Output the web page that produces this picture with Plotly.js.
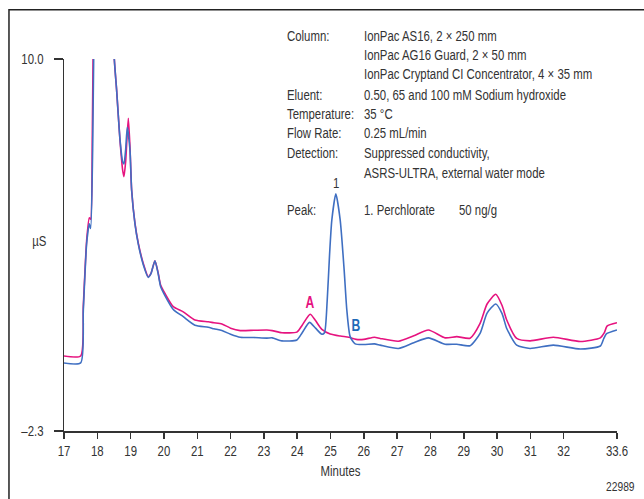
<!DOCTYPE html>
<html>
<head>
<meta charset="utf-8">
<script src="https://cdn.plot.ly/plotly-3.0.1.min.js"></script>
<style>html,body{margin:0;padding:0;background:#fff;}#chart{width:644px;height:499px;}</style>
</head>
<body>
<div id="chart"></div>
<script>
// Trace A (pink)
const timeA = [17.00,17.50,17.58,17.68,17.76,17.80,17.85,17.90,18.10,18.35,18.50,18.58,18.68,18.76,18.80,18.85,18.93,18.98,19.03,19.13,19.23,19.38,19.53,19.61,19.73,19.83,19.90,20.03,20.28,20.58,20.93,21.33,21.50,21.74,22.00,22.29,22.70,23.09,23.25,23.54,23.99,24.15,24.39,24.55,24.74,24.99,25.30,25.55,25.77,26.00,26.32,26.49,27.04,27.50,27.94,28.44,28.79,29.19,29.49,29.70,29.96,30.15,30.29,30.59,30.99,31.69,32.50,33.10,33.22,33.30,33.60];
const signalA = [0.18,0.18,1.85,4.00,4.75,4.70,7.5,13,25,22,10.2,8.97,7.32,6.33,6.11,6.6,8.04,7.10,5.67,4.57,3.91,3.24,2.80,2.91,3.33,2.91,2.53,2.25,1.81,1.64,1.37,1.31,1.28,1.24,1.10,1.02,1.03,1.04,1.02,0.95,0.97,1.20,1.56,1.35,1.06,0.91,0.84,0.80,0.73,0.73,0.80,0.76,0.67,0.85,1.04,0.78,0.82,0.77,1.26,1.90,2.22,1.85,1.37,0.76,0.68,0.80,0.66,0.78,0.95,1.17,1.28];
// Trace B (blue)
const timeB = [17.00,17.50,17.58,17.68,17.76,17.80,17.86,17.92,18.10,18.35,18.50,18.58,18.68,18.76,18.80,18.85,18.90,18.98,19.03,19.13,19.23,19.38,19.53,19.61,19.73,19.83,19.90,20.03,20.28,20.58,20.93,21.33,21.50,21.74,22.00,22.29,22.70,23.09,23.25,23.54,23.99,24.15,24.37,24.55,24.74,24.82,24.90,24.97,25.04,25.16,25.29,25.41,25.49,25.59,25.74,26.00,26.32,26.49,27.04,27.50,27.94,28.44,28.79,29.19,29.49,29.70,29.96,30.15,30.29,30.59,30.99,31.69,32.50,33.10,33.20,33.28,33.60];
const signalB = [-0.05,-0.05,1.70,3.90,4.55,4.40,7.0,13,25,22,10.2,8.97,7.35,6.6,6.53,7.0,7.74,7.0,5.67,4.55,3.88,3.20,2.78,2.90,3.33,2.88,2.48,2.18,1.72,1.48,1.20,1.13,1.08,1.02,0.90,0.80,0.79,0.77,0.78,0.68,0.71,0.95,1.29,1.10,0.90,0.95,2.0,3.5,4.68,5.54,4.68,3.02,1.70,0.82,0.58,0.56,0.58,0.54,0.43,0.62,0.78,0.57,0.57,0.52,0.93,1.60,1.90,1.58,1.09,0.54,0.43,0.54,0.41,0.51,0.75,0.91,1.04];

const xTickVals = [17,18,19,20,21,22,23,24,25,26,27,28,29,30,31,32,33.6];
const xTickText = ["17","18","19","20","21","22","23","24","25","26","27","28","29","30","31","32","33.6"];
const yTickVals = [-2.3, 10];
const yTickText = ["–2.3", "10.0"];

const infoLabels = ["Column:", "", "", "Eluent:", "Temperature:", "Flow Rate:", "Detection:", "", "Peak:"];
const infoValues = ["IonPac AS16, 2 × 250 mm", "IonPac AG16 Guard, 2 × 50 mm", "IonPac Cryptand CI Concentrator, 4 × 35 mm", "0.50, 65 and 100 mM Sodium hydroxide", "35 °C", "0.25 mL/min", "Suppressed conductivity,", "ASRS-ULTRA, external water mode", "1. Perchlorate"];
const peakAmount = "50 ng/g";
const peakLabel = "1";

const FONT = "Liberation Sans, Arial, sans-serif";
const NARROW = 0.76;
const FS = 15;
const TXT = "#333333";
const PINK = "#E6137F";
const BLUE = "#3F6FC2";

const traces = [
  {x: timeA, y: signalA, type: "scatter", mode: "lines", name: "A",
   line: {color: PINK, width: 1.6, shape: "spline", smoothing: 0.6}, hoverinfo: "skip"},
  {x: timeB, y: signalB, type: "scatter", mode: "lines", name: "B",
   line: {color: BLUE, width: 1.6, shape: "spline", smoothing: 0.6}, hoverinfo: "skip"}
];

const lineY = [1.0645, 1.0126, 0.9597, 0.9059, 0.8540, 0.8019, 0.7492, 0.6962, 0.5941];
const annotations = [];
function ann(text, x, y, anchor, size, color) {
  annotations.push({text: text, xref: "paper", yref: "paper", x: x, y: y,
    xanchor: anchor, align: anchor, yanchor: "middle", showarrow: false, borderpad: 0,
    font: {family: FONT, size: size, color: color}});
}
infoLabels.forEach((t, i) => { if (t) ann(t, 0.4014, lineY[i], "left", FS, TXT); });
infoValues.forEach((t, i) => ann(t, 0.5407, lineY[i], "left", FS, TXT));
ann(peakAmount, 0.7125, 0.5941, "left", FS, TXT);
ann(peakLabel, 0.4919, 0.6675, "center", FS, TXT);
ann("<b>A</b>", 0.4448, 0.3441, "center", 16, PINK);
ann("<b>B</b>", 0.5280, 0.2849, "center", 16, "#1F6AB8");
ann("µS", -0.0434, 0.511, "center", FS, TXT);
ann("22989", 1.034, -0.1505, "right", 13.5, TXT);

const layout = {
  width: 644, height: 499,
  margin: {l: 64, r: 27, t: 59, b: 68},
  paper_bgcolor: "#ffffff", plot_bgcolor: "#ffffff",
  showlegend: false,
  font: {family: FONT, size: FS, color: TXT},
  xaxis: {
    range: [17, 33.6], tickvals: xTickVals, ticktext: xTickText,
    showgrid: false, zeroline: false, showline: true, linecolor: TXT, linewidth: 1.5,
    ticks: "outside", ticklen: 6, tickwidth: 1.5, tickcolor: TXT,
    tickfont: {family: FONT, size: FS, color: TXT},
    title: {text: "Minutes", font: {family: FONT, size: FS, color: TXT}, standoff: 7},
    fixedrange: true
  },
  yaxis: {
    range: [-2.3, 10], tickvals: yTickVals, ticktext: yTickText,
    showgrid: false, zeroline: false, showline: true, linecolor: TXT, linewidth: 1.5,
    ticks: "outside", ticklen: 9, tickwidth: 1.5, tickcolor: TXT, ticklabelstandoff: 7,
    tickfont: {family: FONT, size: FS, color: TXT},
    fixedrange: true
  },
  shapes: [
    {type: "rect", xref: "paper", yref: "paper", x0: -0.0995, x1: 1.3, y0: -0.4, y1: 1.1325,
     line: {color: "#222222", width: 1.5}, fillcolor: "rgba(0,0,0,0)", layer: "below"}
  ],
  annotations: annotations
};

// condense every text horizontally about its own anchor point (mimics a narrow typeface)
function condense(gd, s) {
  gd.querySelectorAll("svg text").forEach(t => {
    const x = parseFloat(t.getAttribute("x")) || 0;
    const tr = t.getAttribute("transform") || "";
    t.setAttribute("transform", tr + " translate(" + x + ",0) scale(" + s + ",1) translate(" + (-x) + ",0)");
  });
}

Plotly.newPlot("chart", traces, layout, {displayModeBar: false, staticPlot: true})
  .then(gd => condense(gd, NARROW));
</script>
</body>
</html>
